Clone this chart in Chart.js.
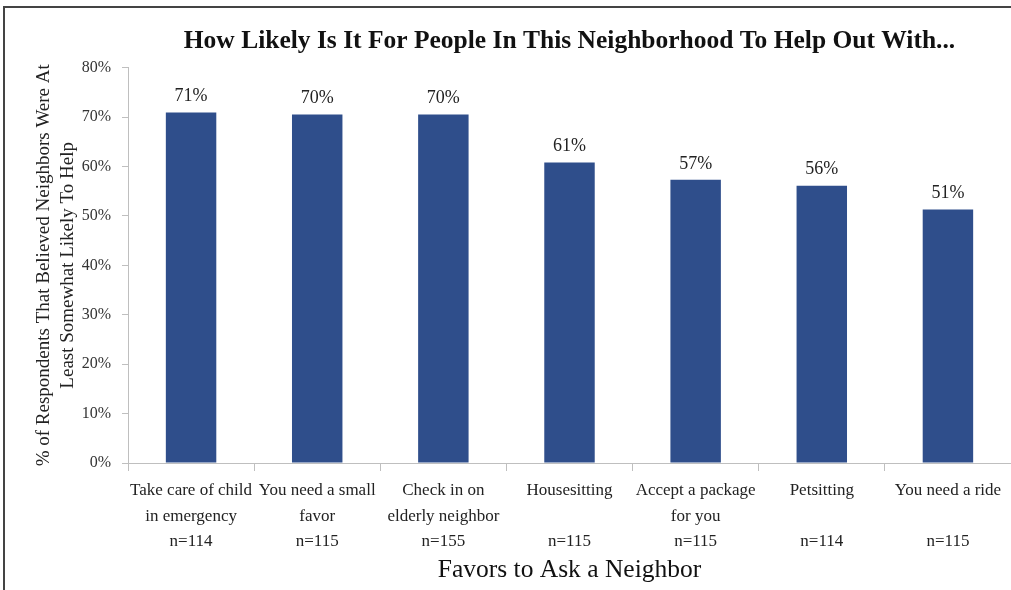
<!DOCTYPE html>
<html>
<head>
<meta charset="utf-8">
<script src="https://cdn.jsdelivr.net/npm/chart.js@4"></script>
<style>
  html, body { margin: 0; padding: 0; background: #fff; }
  #wrap { width: 1011px; height: 590px; position: relative; }
</style>
</head>
<body>
<div id="wrap"><canvas id="myChart" width="1011" height="590"></canvas></div>
<script>
"use strict";
// Data
const favors = [
    ["Take care of child", "in emergency"],
    ["You need a small", "favor"],
    ["Check in on", "elderly neighbor"],
    ["Housesitting", ""],
    ["Accept a package", "for you"],
    ["Petsitting", ""],
    ["You need a ride", ""],
];
const sampleSizes = [114, 115, 155, 115, 115, 114, 115];
const likelyShare = [70.9, 70.5, 70.5, 60.8, 57.3, 56.1, 51.3];
const shownLabels = ["71%", "70%", "70%", "61%", "57%", "56%", "51%"];
const yTicks = [0, 10, 20, 30, 40, 50, 60, 70, 80];

const serif = "'Liberation Serif', 'DejaVu Serif', serif";
const gridGray = "#bfbfbf";

// labels above each bar
const barLabels = {
    id: "barLabels",
    afterDatasetsDraw(chart) {
        const ctx = chart.ctx;
        const meta = chart.getDatasetMeta(0);
        ctx.save();
        ctx.font = "18px " + serif;
        ctx.fillStyle = "#222";
        ctx.textAlign = "center";
        ctx.textBaseline = "bottom";
        meta.data.forEach((bar, i) => {
            ctx.fillText(shownLabels[i], bar.x, bar.y - 7);
        });
        ctx.restore();
    },
};

// frame lines at top and left of the picture
const frame = {
    id: "frame",
    beforeDraw(chart) {
        const ctx = chart.ctx;
        ctx.save();
        ctx.strokeStyle = "#444";
        ctx.lineWidth = 2;
        ctx.beginPath();
        ctx.moveTo(4, 590);
        ctx.lineTo(4, 7);
        ctx.lineTo(1011, 7);
        ctx.stroke();
        ctx.restore();
    },
};

const data = {
    labels: favors.map((f, i) => [f[0], f[1], "n=" + sampleSizes[i]]),
    datasets: [
        {
            data: likelyShare,
            backgroundColor: "#2f4e8b",
            barPercentage: 0.4,
            categoryPercentage: 1.0,
        },
    ],
};

const config = {
    type: "bar",
    data: data,
    plugins: [frame, barLabels],
    options: {
        responsive: false,
        animation: false,
        layout: { padding: { left: 32, right: 0, top: 0, bottom: 4 } },
        scales: {
            x: {
                afterFit(scale) {
                    scale.height = 123;
                },
                grid: {
                    display: true,
                    drawOnChartArea: false,
                    color: gridGray,
                    tickLength: 8,
                    offset: true,
                },
                border: { color: gridGray },
                ticks: {
                    autoSkip: false,
                    maxRotation: 0,
                    color: "#222",
                    font: { family: serif, size: 17, lineHeight: 1.5 },
                    padding: 7,
                },
                title: {
                    display: true,
                    text: "Favors to Ask a Neighbor",
                    color: "#111",
                    font: { family: serif, size: 25.5 },
                    padding: { top: 6, bottom: 0 },
                },
            },
            y: {
                min: 0,
                max: 80,
                afterBuildTicks(scale) {
                    scale.ticks = yTicks.map(v => ({ value: v }));
                },
                afterFit(scale) {
                    scale.width = 96;
                },
                grid: {
                    display: true,
                    drawOnChartArea: false,
                    color: gridGray,
                    tickLength: 6,
                },
                border: { color: gridGray },
                ticks: {
                    color: "#333",
                    font: { family: serif, size: 16 },
                    padding: 11,
                    callback: v => v + "%",
                },
                title: {
                    display: true,
                    text: ["% of Respondents That Believed Neighbors Were At", "Least Somewhat Likely To Help"],
                    color: "#222",
                    font: { family: serif, size: 19, lineHeight: 1.26 },
                    padding: { top: 0, bottom: 0 },
                },
            },
        },
        plugins: {
            legend: { display: false },
            tooltip: { enabled: false },
            title: {
                display: true,
                fullSize: false,
                text: "How Likely Is It For People In This Neighborhood To Help Out With...",
                color: "#111",
                font: { family: serif, size: 25.5, weight: "bold" },
                padding: { top: 26, bottom: 11 },
            },
        },
    },
};

const myChart = new Chart(document.getElementById("myChart"), config);
</script>
</body>
</html>
